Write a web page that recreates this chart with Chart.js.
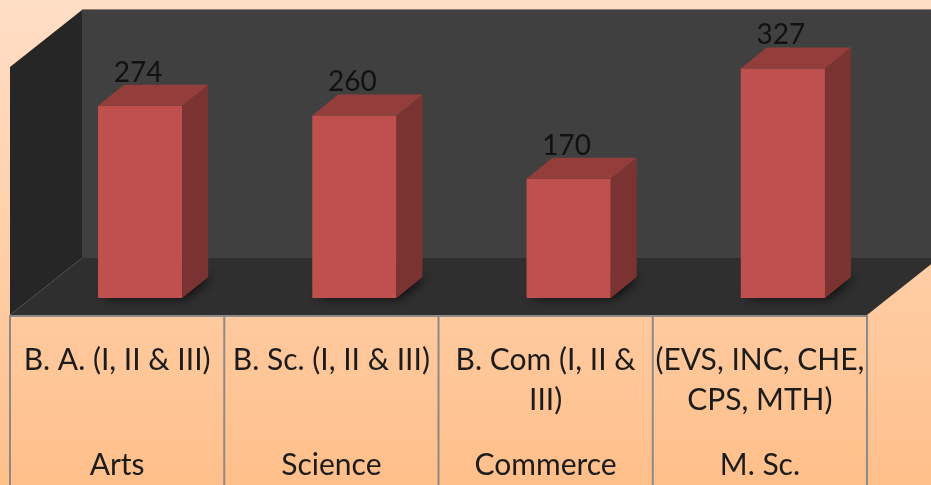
<!DOCTYPE html>
<html>
<head>
<meta charset="utf-8">
<script src="https://cdn.jsdelivr.net/npm/chart.js@4.4.1/dist/chart.umd.min.js"></script>
<style>
  html, body { margin: 0; padding: 0; background: #ffd9bd; }
  canvas { display: block; }
</style>
</head>
<body>
<canvas id="enrolChart" width="931" height="485"></canvas>
<script>
// categories (lower row of the table) and course text (upper row)
const streams = ['Arts', 'Science', 'Commerce', 'M. Sc.'];
const courses = [
    ['B. A. (I, II & III)'],
    ['B. Sc. (I, II & III)'],
    ['B. Com (I, II &', 'III)'],
    ['(EVS, INC, CHE,', 'CPS, MTH)']
];
const students = [274, 260, 170, 327];

const DX = 26, DY = 21;            // bar depth
const BOX_DX = 72, BOX_DY = 57;    // wall/floor depth
const FONT = '"Lato", "Open Sans", sans-serif';

const boxPlugin = {
    id: 'box3d',
    beforeDraw(chart) {
        const ctx = chart.ctx;
        const W = chart.width, H = chart.height;
        const a = chart.chartArea;
        const band = (a.right - a.left) / streams.length;

        // page background
        const g = ctx.createLinearGradient(0, 0, 0, H);
        g.addColorStop(0, '#ffdec6');
        g.addColorStop(1, '#ffbf8a');
        ctx.fillStyle = g;
        ctx.fillRect(0, 0, W, H);

        const fx0 = a.left - 23;
        const fx1 = fx0 + band * streams.length;
        const fy = a.bottom + 17;
        const bx0 = fx0 + BOX_DX;
        const by = fy - BOX_DY;
        const topY = 10;

        // back wall
        ctx.fillStyle = '#404040';
        ctx.fillRect(bx0, topY, W - bx0, by - topY);
        ctx.fillStyle = 'rgba(120,100,90,0.8)';
        ctx.fillRect(bx0, topY - 1, W - bx0, 1);

        // left wall
        ctx.fillStyle = '#262626';
        ctx.beginPath();
        ctx.moveTo(bx0, topY);
        ctx.lineTo(fx0, topY + BOX_DY);
        ctx.lineTo(fx0, fy);
        ctx.lineTo(bx0, by);
        ctx.closePath();
        ctx.fill();

        // floor
        ctx.fillStyle = '#2f2f2f';
        ctx.beginPath();
        ctx.moveTo(bx0, by);
        ctx.lineTo(fx1 + BOX_DX, by);
        ctx.lineTo(fx1, fy);
        ctx.lineTo(fx0, fy);
        ctx.closePath();
        ctx.fill();

        // data table under the floor
        ctx.strokeStyle = '#8a8a8a';
        ctx.lineWidth = 2;
        ctx.beginPath();
        ctx.moveTo(fx0, fy + 1);
        ctx.lineTo(fx1 + 1, fy + 1);
        for (let i = 0; i <= streams.length; i++) {
            const x = fx0 + i * band;
            ctx.moveTo(x, fy);
            ctx.lineTo(x, H);
        }
        ctx.stroke();

        ctx.fillStyle = '#1c1c1c';
        ctx.font = '30px ' + FONT;
        ctx.textAlign = 'center';
        ctx.textBaseline = 'alphabetic';
        for (let i = 0; i < streams.length; i++) {
            const cx = fx0 + (i + 0.5) * band;
            courses[i].forEach((line, j) => {
                ctx.fillText(line, cx, fy + 55 + j * 40);
            });
            ctx.fillText(streams[i], cx, fy + 160);
        }
    },
    beforeDatasetsDraw(chart) {
        const ctx = chart.ctx;
        const meta = chart.getDatasetMeta(0);
        meta.data.forEach(bar => {
            const x0 = bar.x - bar.width / 2, x1 = bar.x + bar.width / 2;
            ctx.save();
            ctx.shadowColor = 'rgba(0,0,0,0.85)';
            ctx.shadowBlur = 12;
            ctx.shadowOffsetX = 3;
            ctx.fillStyle = '#222';
            ctx.beginPath();
            ctx.moveTo(x0, bar.base);
            ctx.lineTo(x1, bar.base);
            ctx.lineTo(x1 + DX, bar.base - DY);
            ctx.lineTo(x0 + DX, bar.base - DY);
            ctx.closePath();
            ctx.fill();
            ctx.restore();
        });
    },
    afterDatasetsDraw(chart) {
        const ctx = chart.ctx;
        const meta = chart.getDatasetMeta(0);
        meta.data.forEach((bar, i) => {
            const x0 = bar.x - bar.width / 2, x1 = bar.x + bar.width / 2;
            // side
            ctx.fillStyle = '#7a3331';
            ctx.beginPath();
            ctx.moveTo(x1, bar.y);
            ctx.lineTo(x1 + DX, bar.y - DY);
            ctx.lineTo(x1 + DX, bar.base - DY);
            ctx.lineTo(x1, bar.base);
            ctx.closePath();
            ctx.fill();
            // top
            ctx.fillStyle = '#943e3b';
            ctx.beginPath();
            ctx.moveTo(x0, bar.y);
            ctx.lineTo(x0 + DX, bar.y - DY);
            ctx.lineTo(x1 + DX, bar.y - DY);
            ctx.lineTo(x1, bar.y);
            ctx.closePath();
            ctx.fill();

            // value label
            ctx.fillStyle = '#111';
            ctx.font = '28px ' + FONT;
            ctx.textAlign = 'center';
            ctx.textBaseline = 'alphabetic';
            ctx.fillText(String(students[i]), bar.x - 2, bar.y - 24);
        });
    }
};

new Chart(document.getElementById('enrolChart').getContext('2d'), {
    type: 'bar',
    data: {
        labels: streams,
        datasets: [{
            label: 'Students',
            data: students,
            backgroundColor: '#c0504d',
            borderWidth: 0,
            barPercentage: 1,
            categoryPercentage: 0.393
        }]
    },
    options: {
        responsive: false,
        animation: false,
        events: [],
        layout: { padding: { left: 33, right: 41, top: 20, bottom: 187 } },
        plugins: {
            legend: { display: false },
            tooltip: { enabled: false }
        },
        scales: {
            x: { display: false },
            y: { display: false, min: 0, max: 396 }
        }
    },
    plugins: [boxPlugin]
});
</script>
</body>
</html>
